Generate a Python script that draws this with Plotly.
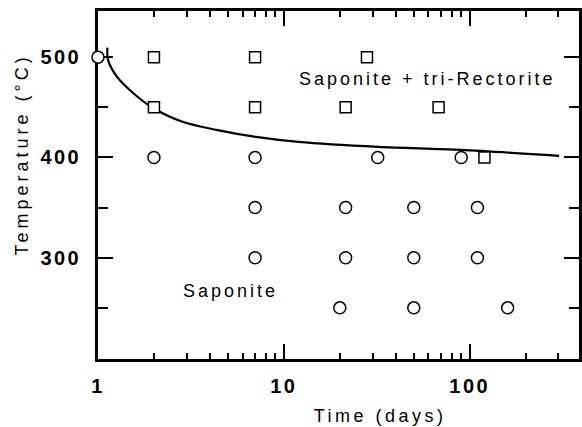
import math
import plotly.graph_objects as go

# ---- data ----
circle_time = [1, 2, 7, 32, 90, 7, 21.5, 50, 110, 7, 21.5, 50, 110, 20, 50, 160]
circle_temp = [500, 400, 400, 400, 400, 350, 350, 350, 350, 300, 300, 300, 300, 250, 250, 250]

square_time = [2, 7, 28, 2, 7, 21.5, 68, 120]
square_temp = [500, 500, 500, 450, 450, 450, 450, 400]

curve_time = [1.124, 1.131, 1.264, 1.538, 1.97, 2.85, 4.33, 7.08, 12.0, 32.2, 89.5, 303]
curve_temp = [509.5, 497.5, 480.5, 464.5, 449.5, 435.5, 427.5, 420.5, 415.5, 410.5, 407.5, 401.5]

x_tickvals = [1, 10, 100]
x_ticktext = ["1", "10", "100"]
y_tickvals = [300, 400, 500]
y_ticktext = ["300", "400", "500"]
y_minor_vals = [250, 350, 450]

FONT = "Liberation Sans, Arial, Helvetica, sans-serif"

fig = go.Figure()

fig.add_trace(go.Scatter(
    x=curve_time, y=curve_temp, mode="lines",
    line=dict(color="black", width=2.2, shape="spline", smoothing=0.9),
    showlegend=False, hoverinfo="skip",
))
fig.add_trace(go.Scatter(
    x=square_time, y=square_temp, mode="markers",
    marker=dict(symbol="square", size=11, color="white",
                line=dict(color="black", width=1.5)),
    showlegend=False, cliponaxis=False,
))
fig.add_trace(go.Scatter(
    x=circle_time, y=circle_temp, mode="markers",
    marker=dict(symbol="circle", size=12, color="white",
                line=dict(color="black", width=1.5)),
    showlegend=False, cliponaxis=False,
))

minor_x = [m * 10 ** e for e in range(3) for m in range(2, 10)]

fig.update_layout(
    width=582, height=427,
    margin=dict(l=98, r=0, t=11, b=68),
    paper_bgcolor="white", plot_bgcolor="white",
    font=dict(family=FONT, color="black", size=18),
    xaxis=dict(
        type="log", range=[0, 2.588],
        tickvals=x_tickvals, ticktext=x_ticktext,
        ticks="inside", ticklen=15, tickwidth=2, tickcolor="black",
        minor=dict(tickvals=minor_x, ticks="inside", ticklen=6, tickwidth=1.5, tickcolor="black"),
        showline=True, linewidth=2.5, linecolor="black", mirror="ticks",
        showgrid=False, zeroline=False,
        tickfont=dict(size=20, family=FONT, color="black", weight="bold"),
        ticklabelstandoff=7,
        layer="below traces",
    ),
    yaxis=dict(
        range=[199, 546],
        tickvals=y_tickvals, ticktext=y_ticktext,
        ticks="inside", ticklen=15, tickwidth=2, tickcolor="black",
        minor=dict(tickvals=y_minor_vals, ticks="inside", ticklen=10, tickwidth=2, tickcolor="black"),
        showline=True, linewidth=2.5, linecolor="black", mirror="ticks",
        showgrid=False, zeroline=False,
        tickfont=dict(size=20, family=FONT, color="black", weight="bold"),
        ticklabelstandoff=10,
        layer="below traces",
    ),
    annotations=[
        dict(text="Saponite + tri-Rectorite", x=1.775, y=478.5, xref="x", yref="y",
             xanchor="center", yanchor="middle",
             showarrow=False, font=dict(size=18, family=FONT, color="black")),
        dict(text="Saponite", x=0.711, y=266.5, xref="x", yref="y",
             xanchor="center", yanchor="middle",
             showarrow=False, font=dict(size=18, family=FONT, color="black")),
        dict(text="Time (days)", x=0.587, y=-0.165, xref="paper", yref="paper",
             xanchor="center", yanchor="middle",
             showarrow=False, font=dict(size=18, family=FONT, color="black")),
        dict(text="Temperature (°C)", x=-0.157, y=0.589, xref="paper", yref="paper",
             xanchor="center", yanchor="middle",
             textangle=-90, showarrow=False, font=dict(size=18, family=FONT, color="black")),
    ],
)

post = """
var gd = document.getElementById('{plot_id}');
function spacing(){
  gd.querySelectorAll('.xtick text, .ytick text').forEach(function(t){ t.style.letterSpacing='2.5px'; });
  gd.querySelectorAll('.annotation-text').forEach(function(t){
    var s = t.textContent;
    if (s.indexOf('Temperature') === 0) { t.style.letterSpacing='4px'; }
    else if (s.indexOf('Time') === 0) { t.style.letterSpacing='3.5px'; }
    else { t.style.letterSpacing='3px'; }
  });
}
spacing();
if (gd.on) { gd.on('plotly_afterplot', spacing); }
"""

fig.write_html("out.html", post_script=post)
